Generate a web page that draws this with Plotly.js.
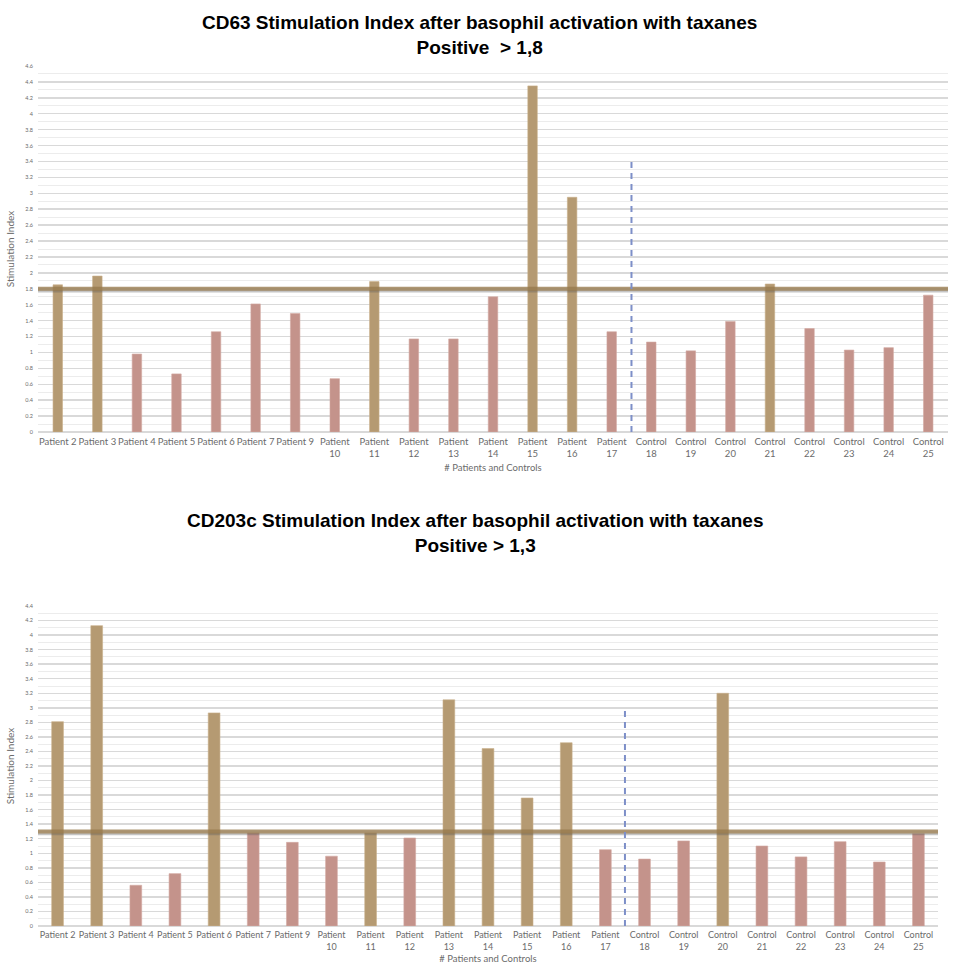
<!DOCTYPE html>
<html>
<head>
<meta charset="utf-8">
<script src="https://cdn.plot.ly/plotly-3.0.1.min.js"></script>
<style>
  html, body { margin: 0; padding: 0; background: #fff; }
  #cd63 { width: 957px; height: 487px; }
  #cd203c { width: 957px; height: 488px; }
</style>
</head>
<body>
<div id="cd63"></div>
<div id="cd203c"></div>
<script>
// subjects on the x axis
const subjects = ['Patient 2', 'Patient 3', 'Patient 4', 'Patient 5', 'Patient 6', 'Patient 7', 'Patient 9',
    'Patient 10', 'Patient 11', 'Patient 12', 'Patient 13', 'Patient 14', 'Patient 15', 'Patient 16', 'Patient 17',
    'Control 18', 'Control 19', 'Control 20', 'Control 21', 'Control 22', 'Control 23', 'Control 24', 'Control 25'];
const tickLabels = ['Patient 2', 'Patient 3', 'Patient 4', 'Patient 5', 'Patient 6', 'Patient 7', 'Patient 9',
    'Patient<br>10', 'Patient<br>11', 'Patient<br>12', 'Patient<br>13', 'Patient<br>14', 'Patient<br>15',
    'Patient<br>16', 'Patient<br>17', 'Control<br>18', 'Control<br>19', 'Control<br>20', 'Control<br>21',
    'Control<br>22', 'Control<br>23', 'Control<br>24', 'Control<br>25'];

// CD63 stimulation index
const cd63 = [1.85, 1.96, 0.98, 0.73, 1.26, 1.61, 1.49, 0.67, 1.89, 1.17, 1.17, 1.70, 4.35, 2.95, 1.26,
    1.13, 1.02, 1.39, 1.86, 1.30, 1.03, 1.06, 1.72];
const cd63Positive = [1, 1, 0, 0, 0, 0, 0, 0, 1, 0, 0, 0, 1, 1, 0, 0, 0, 0, 1, 0, 0, 0, 0];
const cd63Cutoff = 1.8;
const cd63SplitTop = 3.45;

// CD203c stimulation index
const cd203c = [2.81, 4.13, 0.56, 0.72, 2.93, 1.28, 1.15, 0.96, 1.28, 1.21, 3.11, 2.44, 1.76, 2.52, 1.05,
    0.92, 1.17, 3.20, 1.10, 0.95, 1.16, 0.88, 1.27];
const cd203cPositive = [1, 1, 0, 0, 1, 0, 0, 0, 1, 0, 1, 1, 1, 1, 0, 0, 0, 1, 0, 0, 0, 0, 0];
const cd203cCutoff = 1.3;
const cd203cSplitTop = 2.96;

const TAN = '#b59a72';
const ROSE = '#c4938b';

function drawChart(id, values, positive, cutoff, splitTop, opts) {
    const trace = {
        type: 'bar',
        x: subjects,
        y: values,
        marker: {
            color: positive.map(p => p ? TAN : ROSE),
            line: { color: positive.map(p => p ? '#c9b08c' : '#d3a9a2'), width: 0.6 },
        },
        hoverinfo: 'x+y',
    };

    const plotH = opts.height - opts.top - opts.bottom;

    const layout = {
        width: 957,
        height: opts.height,
        margin: { l: 38, r: opts.right, t: opts.top, b: opts.bottom },
        paper_bgcolor: '#fff',
        plot_bgcolor: '#fff',
        bargap: opts.gap,
        showlegend: false,
        font: { family: 'Lato, "Open Sans", sans-serif', color: '#6b6b6b' },
        annotations: [{
            text: opts.title,
            xref: 'paper', x: 0.5 + opts.titleDx, xanchor: 'center',
            yref: 'paper', y: 1 + (opts.top - opts.titleMid) / plotH, yanchor: 'middle',
            showarrow: false,
            font: { family: '"Liberation Sans Narrow", "Liberation Sans", sans-serif', size: opts.titleSize, color: '#000', weight: 'bold' },
        }],
        xaxis: {
            type: 'category',
            tickvals: subjects,
            ticktext: tickLabels,
            tickangle: 0,
            tickfont: { size: opts.tickSize, color: '#6b6b6b' },
            showgrid: false,
            zeroline: false,
            showline: false,
            ticks: '',
            ticklabelstandoff: 2,
            automargin: false,
            title: { text: '# Patients and Controls', font: { size: 9.5, color: '#6b6b6b' }, standoff: opts.xTitleGap },
        },
        yaxis: {
            range: [0, opts.yMax],
            dtick: 0.2,
            tick0: 0,
            tickfont: { size: 5.5, color: '#6b6b6b' },
            gridcolor: '#d9d9d9',
            gridwidth: 1.5,
            zeroline: true,
            zerolinecolor: '#d9d9d9',
            zerolinewidth: 1.5,
            showline: false,
            ticks: '',
            ticklabelstandoff: 4,
            minor: { dtick: 0.1, tick0: 0, showgrid: true, gridcolor: '#ececec', gridwidth: 1 },
            automargin: false,
            title: { text: 'Stimulation Index', font: { size: 10, color: '#6b6b6b' }, standoff: 8 },
        },
        shapes: [
            // cut-off shadow
            {
                type: 'line', xref: 'paper', x0: 0, x1: 1,
                yref: 'y', ysizemode: 'pixel', yanchor: cutoff, y0: -2.5, y1: -2.5,
                line: { color: 'rgba(90,90,90,0.35)', width: 2.5 },
            },
            // cut-off line
            {
                type: 'line', xref: 'paper', x0: 0, x1: 1,
                yref: 'y', y0: cutoff, y1: cutoff,
                line: { color: 'rgba(150,120,75,0.78)', width: 4 },
            },
            // patients / controls separator
            {
                type: 'line', xref: 'x', x0: 14.5, x1: 14.5,
                yref: 'y', y0: 0, y1: splitTop,
                line: { color: '#7d8fc8', width: 2, dash: '6px,5px' },
            },
        ],
    };

    Plotly.newPlot(id, [trace], layout, { displayModeBar: false, staticPlot: true });
}

drawChart('cd63', cd63, cd63Positive, cd63Cutoff, cd63SplitTop, {
    height: 487, top: 66, bottom: 55, right: 9, gap: 0.76, yMax: 4.6,
    titleMid: 35, titleSize: 19, titleDx: -0.015, tickSize: 9.5, xTitleGap: 6,
    title: 'CD63 Stimulation Index after basophil activation with taxanes<br>Positive  > 1,8',
});
drawChart('cd203c', cd203c, cd203cPositive, cd203cCutoff, cd203cSplitTop, {
    height: 488, top: 119, bottom: 49, right: 19, gap: 0.70, yMax: 4.4,
    titleMid: 46, titleSize: 19, titleDx: -0.014, tickSize: 9, xTitleGap: 4,
    title: 'CD203c Stimulation Index after basophil activation with taxanes<br>Positive > 1,3',
});
</script>
</body>
</html>
